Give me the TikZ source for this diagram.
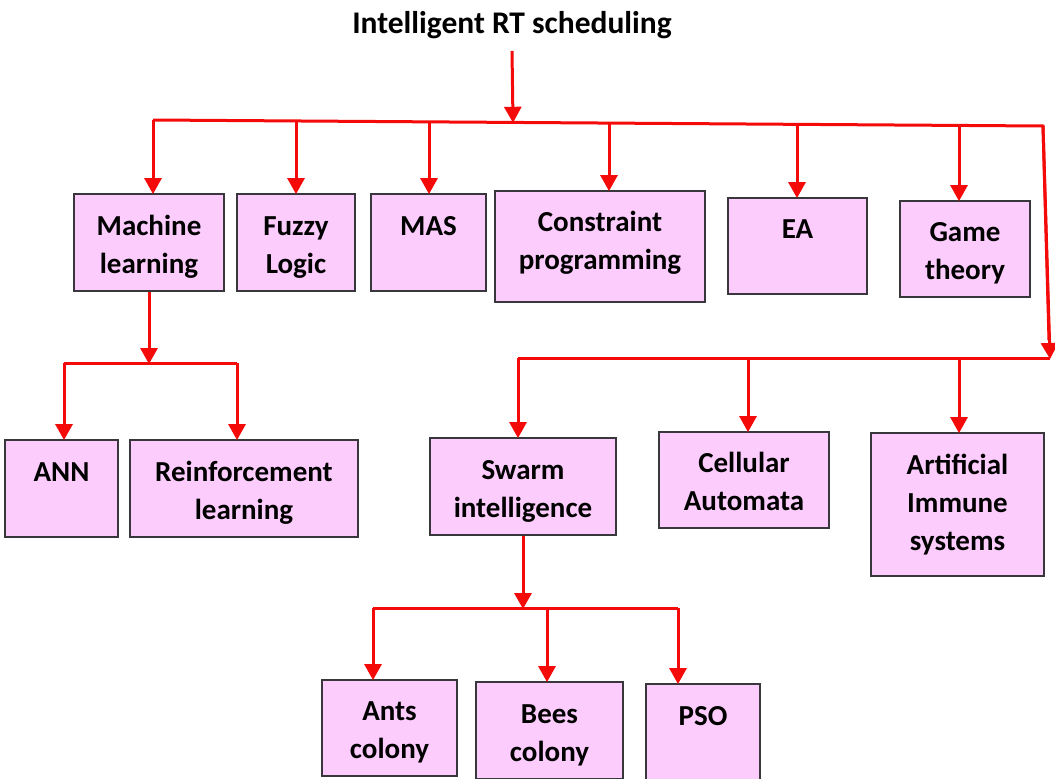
\documentclass[tikz,border=0pt]{standalone}
\usepackage{fontspec}
\setmainfont{Carlito}
\usetikzlibrary{arrows.meta}
\definecolor{boxfill}{RGB}{252,204,252}
\definecolor{boxline}{RGB}{55,55,60}
\definecolor{linkred}{RGB}{245,10,10}
\newcommand\tstrut{\rule{0pt}{34.6pt}}
\newcommand\bstrut{\rule[-19.4pt]{0pt}{19.4pt}}
\tikzset{
  box/.style={draw=boxline, line width=1.8pt, fill=boxfill, align=center, inner sep=0pt,
    font=\fontsize{29}{38}\selectfont\bfseries},
  conn/.style={draw=linkred, line width=3pt},
  arr/.style={conn, -{Triangle[width=17pt,length=16pt]}, shorten >=-1pt}
}
\begin{document}
\begin{tikzpicture}[x=1pt,y=-1pt]
\useasboundingbox (0,0) rectangle (1055,779);
\fill[white] (0,0) rectangle (1055,779);
\node[font=\fontsize{31.5}{38}\selectfont\bfseries, inner sep=0pt] (title) at (512,25) {Intelligent RT scheduling};
% top row
\node[box, minimum width=150pt, minimum height=97pt] (ml) at (149,242.5) {\tstrut Machine\\\strut learning};
\node[box, minimum width=118pt, minimum height=97pt] (fl) at (296,242.5) {\tstrut Fuzzy\\\strut Logic};
\node[box, minimum width=115pt, minimum height=97pt] (mas) at (428.5,242.5) {\tstrut MAS\\\strut};
\node[box, minimum width=210pt, minimum height=111pt] (cp) at (600,246.5) {\strut Constraint\\\bstrut programming};
\node[box, minimum width=139pt, minimum height=96pt] (ea) at (797.5,246) {\tstrut EA\\\strut};
\node[box, minimum width=130pt, minimum height=96pt] (gt) at (965,249) {\tstrut Game\\\strut theory};
% second row
\node[box, minimum width=113pt, minimum height=97pt] (ann) at (61.5,488.5) {\tstrut ANN\\\strut};
\node[box, minimum width=228pt, minimum height=97pt] (rl) at (244,488.5) {\tstrut Reinforcement\\\strut learning};
\node[box, minimum width=186pt, minimum height=97pt] (sw) at (523,486.5) {\tstrut Swarm\\\strut intelligence};
\node[box, minimum width=170pt, minimum height=96pt] (ca) at (744,480) {\tstrut Cellular\\\strut Automata};
\node[box, minimum width=173pt, minimum height=143pt] (ais) at (957.5,504.5) {\strut Artificial\\\strut Immune\\\strut systems};
% third row
\node[box, minimum width=135pt, minimum height=96pt] (ants) at (389.5,728) {\tstrut Ants\\\strut colony};
\node[box, minimum width=147pt, minimum height=97pt] (bees) at (549.5,730.5) {\tstrut Bees\\\strut colony};
\node[box, minimum width=114pt, minimum height=98pt] (pso) at (703,733) {\tstrut PSO\\\strut};
% top bus
\coordinate (j0) at (513,121.8);
\coordinate (c1) at (153,120);
\coordinate (c2) at (296,121);
\coordinate (c3) at (429,121.9);
\coordinate (c4) at (609,123.1);
\coordinate (c5) at (797,124.3);
\coordinate (c6) at (959,125.4);
\coordinate (bR) at (1043,126);
\coordinate (r2) at (1050,358);
\draw[arr] ([yshift=-12pt]title.south) -- (j0);
\draw[conn, line join=miter] (c1) -- (bR) -- (1049,340);
\draw[arr] (bR) -- (r2);
\foreach \c/\n in {c1/ml,c2/fl,c3/mas,c4/cp,c5/ea,c6/gt}
  \draw[arr] (\c) -- (\c |- \n.north);
% second bus
\coordinate (s1) at (518,358);
\coordinate (s2) at (748,358);
\coordinate (s3) at (959,358);
\draw[conn] (r2) -- (s1);
\draw[arr] (s1) -- (s1 |- sw.north);
\draw[arr] (s2) -- (s2 |- ca.north);
\draw[arr] (s3) -- (s3 |- ais.north);
% machine learning branch
\coordinate (m0) at (149,363);
\coordinate (m1) at (64,363);
\coordinate (m2) at (237,363);
\draw[arr] (ml.south) -- (m0);
\draw[conn] (m1) -- (m2);
\draw[arr] (m1) -- (m1 |- ann.north);
\draw[arr] (m2) -- (m2 |- rl.north);
% swarm branch
\coordinate (w0) at (523,608);
\coordinate (w1) at (373,608);
\coordinate (w2) at (547,608);
\coordinate (w3) at (678,608);
\draw[arr] (sw.south) -- (w0);
\draw[conn] (w1) -- (w3);
\draw[arr] (w1) -- (w1 |- ants.north);
\draw[arr] (w2) -- (w2 |- bees.north);
\draw[arr] (w3) -- (w3 |- pso.north);
\end{tikzpicture}
\end{document}
